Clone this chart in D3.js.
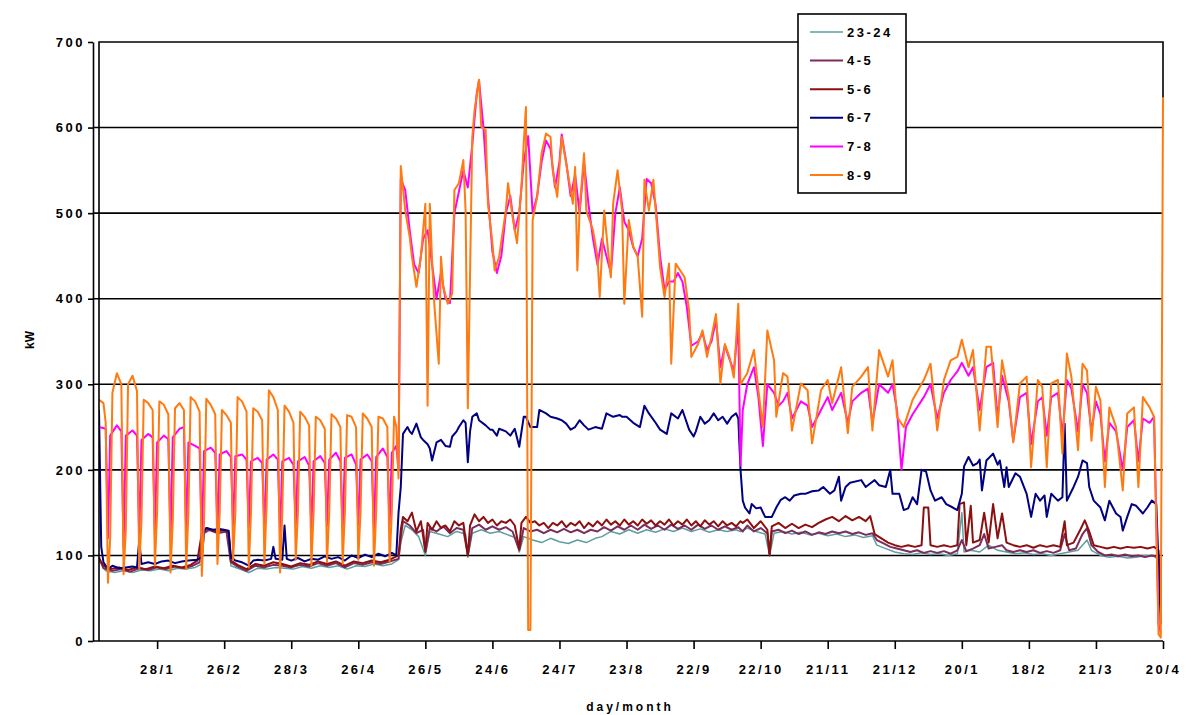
<!DOCTYPE html>
<html>
<head>
<meta charset="utf-8">
<script src="https://cdn.jsdelivr.net/npm/d3@7"></script>
<style>
  body { margin: 0; background: #fff; }
  text { font-family: "Liberation Sans", Arial, sans-serif; font-weight: bold; fill: #000; }
  .tick text, .legend text { font-size: 13px; letter-spacing: 2.5px; }
</style>
</head>
<body>
<div id="chart"></div>
<script>
// KW PER HOUR-BAND CHART //
// each series is a list of [day index, kW]

const yTicks = [0, 100, 200, 300, 400, 500, 600, 700];
const xTickDays = [26, 56, 86, 116, 146, 176, 206, 236, 266, 296, 326, 356, 386, 416, 446, 476];
const xTickLabels = ["28/1", "26/2", "28/3", "26/4", "26/5", "24/6", "24/7", "23/8",
	"22/9", "22/10", "21/11", "21/12", "20/1", "18/2", "21/3", "20/4"];
const seriesNames = ["23-24", "4-5", "5-6", "6-7", "7-8", "8-9"];

// 23-24
const s2324 = [
	[0,95],[3,82],[7,80],[11,82],[15,80],[19,83],[23,82],[27,84],[31,82],[35,85],[39,84],[43,86],[46,90],[47,126],[50,130],[54,128],[58,127],[59,88],
	[63,84],[67,80],[71,85],[75,84],[79,86],[83,85],[87,84],[91,87],[95,85],[99,88],[103,86],[107,88],[111,84],[115,88],[119,87],[123,90],[127,88],[131,90],[134,95],
	[135,115],[137,135],[140,130],[143,122],[146,100],[148,128],[152,125],[156,122],[160,128],[164,125],[165,98],[167,126],[171,130],[175,126],[179,128],[183,124],
	[187,120],[188,104],[190,122],[194,118],[198,115],[202,120],[206,116],[210,114],[214,118],[218,115],[222,120],[225,122],[229,128],[233,125],[237,130],[241,126],
	[245,130],[249,127],[253,131],[257,128],[261,132],[265,128],[269,131],[273,127],[277,130],[281,128],[285,130],[287,128],
	[290,132],[294,128],[298,125],[300,100],[302,126],[306,128],[310,125],[314,127],[318,124],[322,126],[326,123],[330,125],[334,122],[338,124],[342,121],[346,123],
	[348,112],[352,108],[356,104],[360,102],[364,101],[368,103],[372,101],[376,102],[380,100],[384,102],[386,150],[387,104],[390,106],[394,104],[398,112],[402,106],
	[406,104],[410,102],[414,103],[418,101],[422,102],[426,100],[430,102],[434,104],[438,106],[442,118],[444,106],[448,100],[452,98],[456,99],[460,97],[464,98],
	[468,100],[472,99],[474,95],[475,30]
];

// 4-5
const s45 = [
	[0,98],[2,85],[6,82],[10,84],[14,81],[18,85],[22,83],[26,86],[30,84],[34,87],[38,85],[42,88],[45,92],[46,124],[49,130],[53,126],[57,128],[59,92],
	[62,87],[66,82],[70,88],[74,86],[78,89],[82,88],[86,86],[90,89],[94,87],[98,91],[102,88],[106,91],[110,86],[114,91],[118,89],[122,92],[126,90],[130,93],[134,96],
	[135,120],[136,140],[139,135],[142,126],[145,130],[146,104],[148,132],[151,128],[154,134],[157,126],[160,132],[163,130],[165,100],[167,132],[170,136],[173,130],
	[176,134],[179,130],[182,133],[185,128],[188,106],[190,132],[193,128],[196,130],[199,126],[202,130],[205,127],[208,131],[211,127],[214,130],[217,126],[220,130],
	[223,128],[226,133],[229,129],[232,134],[235,130],[238,135],[241,130],[244,136],[247,131],[250,135],[253,130],[256,136],[259,131],[262,135],[265,130],[268,136],
	[271,131],[274,135],[277,130],[280,134],[283,130],[286,133],[288,128],
	[290,135],[293,128],[296,132],[299,126],[300,102],[301,128],[304,130],[307,126],[310,129],[313,125],[316,128],[319,124],[322,127],[325,125],[328,128],[331,126],
	[334,128],[337,125],[340,127],[343,124],[346,126],[348,118],[351,114],[354,110],[357,108],[360,106],[363,104],[366,106],[369,103],[372,105],[375,103],[378,105],
	[381,102],[384,106],[386,118],[388,105],[391,108],[394,112],[396,125],[398,108],[401,110],[404,112],[406,106],[409,104],[412,106],[415,104],[418,106],[421,103],
	[424,105],[427,103],[430,106],[432,125],[434,106],[437,108],[440,125],[442,132],[444,112],[447,104],[450,100],[453,101],[456,99],[459,101],[462,99],[465,100],
	[468,98],[471,100],[474,98],[475,40]
];

// 5-6
const s56 = [
	[0,96],[2,88],[5,84],[9,86],[13,83],[17,86],[21,84],[25,87],[29,85],[33,88],[37,86],[41,89],[44,94],[46,126],[48,132],[52,128],[56,130],[58,126],[59,94],
	[62,89],[66,84],[70,90],[74,88],[78,92],[82,90],[86,87],[90,91],[94,89],[98,93],[102,90],[106,93],[110,88],[114,93],[118,91],[122,94],[126,92],[130,95],[134,100],
	[135,130],[136,145],[138,140],[140,150],[142,128],[144,140],[146,105],[147,138],[149,130],[151,140],[153,132],[155,135],[157,128],[159,140],[161,135],[163,138],
	[165,100],[166,135],[168,148],[170,140],[172,145],[174,138],[176,142],[178,135],[180,140],[182,138],[184,142],[186,135],[188,108],[189,138],[191,145],[193,138],
	[195,140],[197,135],[199,138],[201,132],[203,138],[205,135],[207,140],[209,133],[211,138],[213,135],[215,140],[217,132],[219,138],[221,134],[223,140],[225,135],
	[227,142],[229,136],[231,140],[233,135],[235,142],[237,136],[239,140],[241,135],[243,142],[245,137],[247,141],[249,135],[251,140],[253,136],[255,142],[257,135],
	[259,140],[261,136],[263,142],[265,135],[267,140],[269,134],[271,141],[273,136],[275,140],[277,134],[279,140],[281,135],[283,138],[285,134],[287,140],
	[288,138],[290,142],[293,132],[296,140],[299,130],[300,100],[301,134],[304,138],[307,132],[310,137],[313,132],[316,136],[319,133],[322,138],[325,142],[328,145],
	[331,140],[334,146],[337,141],[340,145],[343,140],[345,146],[347,125],[350,120],[353,115],[356,112],[359,110],[362,112],[365,110],[368,112],[369,156],[371,156],
	[372,112],[375,110],[378,112],[381,110],[384,112],[385,160],[387,162],[388,112],[390,158],[391,115],[394,118],[396,150],[398,115],[400,160],[402,120],[404,149],
	[406,115],[409,112],[412,110],[415,112],[418,109],[421,112],[424,110],[427,112],[430,110],[432,140],[433,112],[436,115],[439,130],[441,141],[443,128],[445,112],
	[448,110],[451,108],[454,110],[457,108],[460,110],[463,109],[466,110],[469,108],[472,110],[474,106],[475,50]
];

// 6-7
const s67 = [
	[0,270],[1,110],[2,92],[4,84],[6,88],[9,85],[12,86],[15,87],[17,86],[18,118],[19,90],[22,92],[25,90],[28,93],[31,94],[34,91],[37,93],[40,94],[44,95],[46,98],
	[47,128],[48,132],[51,130],[54,131],[58,129],[59,98],[61,94],[64,92],[67,88],[69,94],[71,95],[74,94],[77,96],[78,110],[79,96],[82,95],[83,135],[84,96],[86,94],
	[89,97],[92,93],[95,96],[98,95],[101,99],[104,96],[107,98],[110,94],[113,100],[116,97],[119,101],[122,98],[125,102],[128,99],[131,103],[133,100],[134,150],[135,180],
	[136,242],[138,250],[139,245],[140,242],[142,254],[144,238],[145,235],[147,230],[148,225],[149,211],[151,232],[153,235],[155,228],[157,227],[158,239],[160,245],
	[161,250],[163,258],[164,255],[165,209],[166,245],[167,262],[169,266],[170,258],[173,252],[175,247],[176,247],[178,240],[179,248],[182,245],[184,240],[186,248],
	[188,227],[190,262],[191,262],[193,250],[196,250],[197,270],[200,266],[202,262],[205,260],[207,258],[209,254],[211,247],[213,250],[215,258],[217,252],[219,247],
	[222,250],[225,248],[227,266],[230,262],[233,264],[234,262],[236,262],[239,255],[242,250],[244,275],[246,266],[249,255],[251,247],[254,242],[256,266],[259,260],
	[261,270],[264,247],[266,239],[267,245],[269,262],[271,254],[273,258],[275,266],[277,258],[279,262],[281,254],[283,262],[285,266],[286,260],[287,200],
	[288,164],[289,156],[291,149],[292,160],[294,155],[296,156],[298,145],[301,145],[303,156],[305,165],[307,168],[309,164],[311,170],[314,172],[316,172],[319,175],
	[322,176],[324,180],[327,172],[329,176],[331,192],[332,164],[334,180],[336,185],[341,188],[343,180],[345,184],[347,188],[349,182],[352,180],[354,200],[355,172],
	[358,172],[360,153],[362,155],[364,168],[366,160],[368,200],[370,198],[372,176],[374,164],[377,168],[379,160],[382,156],[384,153],[386,172],[387,204],[389,215],
	[391,205],[393,208],[394,212],[395,176],[397,211],[400,219],[402,206],[403,211],[405,180],[406,203],[407,180],[410,196],[412,192],[415,172],[417,145],[419,172],
	[421,164],[423,170],[424,145],[426,172],[429,164],[431,168],[432,254],[433,164],[436,180],[438,192],[440,211],[442,208],[443,180],[445,164],[448,156],[450,141],
	[452,164],[455,149],[457,145],[458,129],[460,145],[462,160],[464,158],[467,149],[469,156],[471,164],[473,160],[474,90],[475,20]
];

// 7-8
const s78 = [
	[0,250],[3,248],[4,120],[5,240],[8,252],[10,245],[11,110],[12,240],[15,246],[17,240],[18,120],[19,235],[22,242],[24,238],[25,125],[26,232],[29,240],[31,236],
	[32,118],[33,238],[36,248],[38,250],[39,125],[40,232],[43,228],[45,225],[46,115],[47,222],[50,226],[52,220],[53,130],[54,218],[57,222],[59,215],[60,135],[61,216],
	[64,218],[66,212],[67,133],[68,210],[71,214],[73,208],[74,130],[75,212],[78,218],[80,212],[81,125],[82,210],[85,214],[87,206],[88,135],[89,210],[92,215],[94,205],
	[95,130],[96,210],[99,216],[101,208],[102,135],[103,212],[106,220],[108,210],[109,130],[110,214],[113,218],[115,206],[116,135],[117,212],[120,218],[122,210],
	[123,130],[124,215],[127,225],[129,215],[130,135],[131,220],[133,228],[134,200],
	[135,540],[137,527],[139,480],[141,440],[143,430],[145,470],[147,480],[149,440],[151,400],[153,430],[155,400],[157,395],[159,500],[161,525],[163,550],[165,530],
	[167,580],[169,640],[170,655],[172,600],[174,520],[176,455],[178,430],[180,450],[182,500],[184,520],[186,480],[188,500],[190,560],[192,590],[194,500],[196,520],
	[198,560],[200,585],[202,575],[204,530],[206,560],[207,592],[209,560],[211,520],[213,545],[215,500],[217,560],[219,510],[221,470],[223,440],[225,470],[227,450],
	[229,430],[231,500],[233,530],[235,490],[237,480],[239,460],[241,450],[243,470],[245,540],[247,535],[249,510],[251,450],[253,410],[255,420],[257,420],[259,430],
	[261,420],[263,390],[265,345],[268,350],[270,360],[272,340],[274,350],[276,375],[278,320],[280,345],[282,330],[284,315],[286,370],[287,205],
	[288,270],[290,300],[293,320],[295,285],[297,228],[299,300],[302,290],[304,275],[306,280],[308,290],[310,260],[314,280],[317,275],[319,250],[323,270],[326,285],
	[328,270],[332,290],[335,255],[337,280],[341,290],[344,295],[346,255],[349,300],[353,290],[355,300],[357,270],[359,200],[361,250],[364,265],[369,285],[372,300],
	[375,260],[378,290],[381,305],[384,315],[386,325],[389,310],[391,320],[394,270],[397,320],[400,325],[402,260],[404,310],[407,280],[409,234],[412,285],[415,290],
	[417,230],[420,280],[422,285],[424,240],[426,285],[429,290],[431,240],[433,305],[435,295],[438,245],[440,300],[442,290],[444,245],[446,280],[448,265],[450,210],
	[452,255],[455,245],[458,200],[460,250],[463,258],[465,210],[467,260],[470,255],[472,262],[474,20],[475,10]
];

// 8-9
const s89 = [
	[0,282],[2,278],[3,255],[4,68],[5,120],[6,290],[8,313],[10,300],[11,78],[12,130],[13,300],[15,310],[17,292],[18,85],[19,140],[20,282],[22,278],[24,270],
	[25,88],[26,150],[27,280],[29,276],[31,265],[32,80],[33,140],[34,272],[36,278],[38,270],[39,84],[40,150],[41,285],[43,280],[45,268],[46,76],[47,140],[48,283],
	[50,276],[52,265],[53,90],[54,150],[55,270],[57,264],[59,255],[60,95],[61,150],[62,285],[64,280],[66,268],[67,86],[68,150],[69,272],[71,268],[73,258],[74,90],
	[75,160],[76,293],[78,285],[80,270],[81,80],[82,150],[83,275],[85,268],[87,255],[88,95],[89,150],[90,268],[92,262],[94,252],[95,88],[96,150],[97,262],[99,258],
	[101,248],[102,92],[103,150],[104,265],[106,260],[108,250],[109,90],[110,150],[111,264],[113,262],[115,250],[116,95],[117,150],[118,266],[120,260],[122,250],
	[123,88],[124,150],[125,262],[127,260],[129,250],[130,92],[131,150],[132,262],[133,250],[134,190],
	[135,555],[137,503],[139,472],[140,449],[142,414],[144,449],[146,511],[147,275],[148,511],[149,445],[150,394],[152,324],[153,449],[154,414],[156,394],[158,406],
	[159,527],[161,535],[163,562],[164,503],[165,272],[167,589],[168,620],[170,656],[171,601],[173,597],[174,511],[176,465],[177,433],[179,449],[182,503],[183,535],
	[185,496],[187,465],[189,531],[190,581],[191,624],[192,13],[193,13],[194,492],[196,519],[198,570],[200,593],[202,589],[203,550],[205,519],[207,589],[209,558],
	[212,511],[213,554],[214,433],[215,503],[217,570],[218,503],[221,480],[223,449],[224,402],[226,503],[228,449],[229,425],[230,511],[232,550],[234,503],[235,394],
	[237,492],[239,461],[241,449],[243,379],[244,539],[246,503],[248,539],[250,472],[251,437],[253,402],[255,441],[256,324],[258,441],[260,433],[262,425],[264,386],
	[265,332],[268,347],[270,363],[272,332],[274,355],[276,382],[278,301],[280,347],[282,332],[284,308],[286,394],
	[287,300],[290,313],[293,340],[295,293],[297,250],[299,363],[302,328],[303,262],[306,313],[308,309],[310,246],[314,301],[317,293],[319,231],[323,293],[326,305],
	[328,278],[332,320],[335,243],[337,297],[341,309],[344,320],[346,246],[349,340],[353,309],[355,328],[357,262],[360,250],[364,282],[369,305],[372,324],[375,246],
	[378,305],[381,328],[384,332],[386,352],[389,320],[391,340],[394,246],[397,344],[399,344],[402,250],[404,328],[407,285],[409,232],[412,301],[415,309],[417,203],
	[420,305],[422,297],[424,203],[426,301],[429,305],[431,219],[433,336],[435,309],[438,223],[440,324],[442,316],[444,234],[446,297],[448,281],[450,180],[452,273],
	[455,250],[458,176],[460,266],[463,273],[465,180],[467,285],[470,273],[472,262],[474,8],[475,4],[476,635]
];

const seriesData = [s2324, s45, s56, s67, s78, s89];
const seriesColors = ["#5f9e9e", "#7b2d5e", "#8b1010", "#000080", "#ff00ff", "#ff7a10"];
const seriesWidths = [1.5, 2, 2, 2, 2, 2];

// set the dimensions of the page and the plot area
const width = 1191;
const height = 715;
const plot = { left: 99, right: 1163, top: 42, bottom: 641 };
const axisX = 93;

const svg = d3
	.select("#chart")
	.append("svg")
	.attr("width", width)
	.attr("height", height);

const x = d3.scaleLinear().domain([0, 476]).range([plot.left, plot.right]);
const y = d3.scaleLinear().domain([0, 700]).range([plot.bottom, plot.top]);

// horizontal gridlines
svg
	.append("g")
	.selectAll("line")
	.data(yTicks.filter((d) => d < 700))
	.join("line")
	.attr("x1", axisX)
	.attr("x2", plot.right)
	.attr("y1", (d) => y(d))
	.attr("y2", (d) => y(d))
	.attr("stroke", "#000")
	.attr("stroke-width", 1.6);

// series lines
svg
	.append("clipPath")
	.attr("id", "plot-clip")
	.append("rect")
	.attr("x", plot.left)
	.attr("y", plot.top - 1)
	.attr("width", plot.right - plot.left + 1)
	.attr("height", plot.bottom - plot.top + 2);

const line = d3
	.line()
	.x((d) => x(d[0]))
	.y((d) => y(d[1]));

svg
	.append("g")
	.attr("clip-path", "url(#plot-clip)")
	.selectAll("path")
	.data(seriesData)
	.join("path")
	.attr("d", line)
	.attr("fill", "none")
	.attr("stroke", (d, i) => seriesColors[i])
	.attr("stroke-width", (d, i) => seriesWidths[i])
	.attr("stroke-linejoin", "round");

// plot area border (top and sides)
svg
	.append("path")
	.attr("d", `M${plot.left},${plot.bottom}V${plot.top}H${plot.right}V${y(635)}`)
	.attr("fill", "none")
	.attr("stroke", "#000")
	.attr("stroke-width", 1.6);

// Y axis
const yAxis = svg
	.append("g")
	.attr("transform", `translate(${axisX},0)`)
	.call(d3.axisLeft(y).tickValues(yTicks).tickSize(5).tickSizeOuter(0).tickPadding(3));
yAxis.selectAll("path, line").attr("stroke", "#000").attr("stroke-width", 1.6);

// X axis
const xAxis = svg
	.append("g")
	.attr("transform", `translate(0,${plot.bottom})`)
	.call(
		d3
			.axisBottom(x)
			.tickValues(xTickDays)
			.tickFormat((d, i) => xTickLabels[i])
			.tickSize(8)
			.tickSizeOuter(0)
			.tickPadding(16)
	);
xAxis.select(".domain").remove();
xAxis.selectAll("line").attr("stroke", "#000").attr("stroke-width", 1.6);

// axis titles
svg
	.append("text")
	.attr("transform", "translate(34,340)rotate(-90)")
	.attr("text-anchor", "middle")
	.style("font-size", "12px")
	.text("kW");

svg
	.append("text")
	.attr("x", 630)
	.attr("y", 711)
	.attr("text-anchor", "middle")
	.style("font-size", "12px")
	.style("letter-spacing", "3px")
	.text("day/month");

// legend
const legend = svg.append("g").attr("class", "legend");
legend
	.append("rect")
	.attr("x", 798)
	.attr("y", 14)
	.attr("width", 108)
	.attr("height", 179)
	.attr("fill", "#fff")
	.attr("stroke", "#000")
	.attr("stroke-width", 1.6);

const entry = legend
	.selectAll("g")
	.data(seriesNames)
	.join("g")
	.attr("transform", (d, i) => `translate(0,${32 + i * 28.6})`);

entry
	.append("line")
	.attr("x1", 810)
	.attr("x2", 843)
	.attr("stroke", (d, i) => seriesColors[i])
	.attr("stroke-width", (d, i) => seriesWidths[i]);

entry
	.append("text")
	.attr("x", 847)
	.attr("dy", "0.35em")
	.text((d) => d);
</script>
</body>
</html>
